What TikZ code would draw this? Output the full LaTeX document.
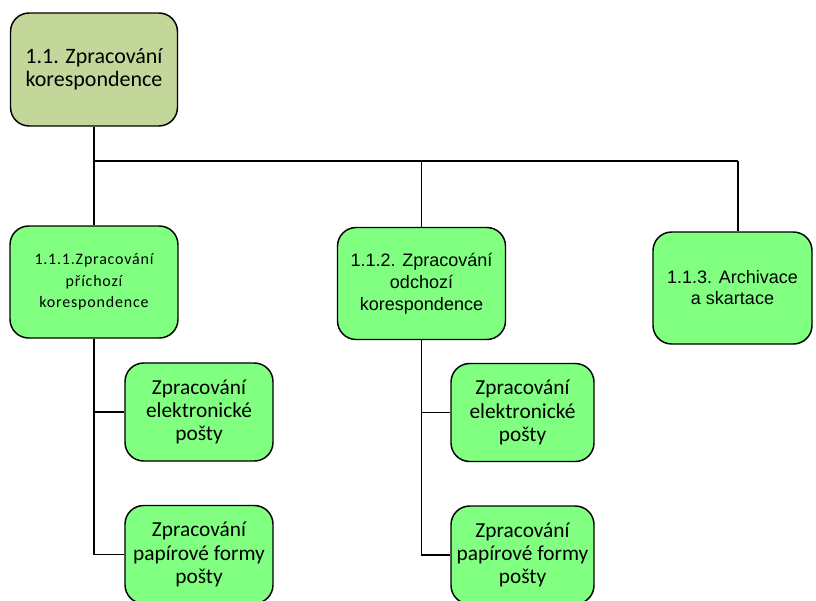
\documentclass[tikz,border=0pt]{standalone}
\usepackage{fontspec}
\setmainfont{Carlito}
\newfontfamily\arialfont{Liberation Sans}
\definecolor{rootfill}{HTML}{C4D79B}
\definecolor{taskfill}{HTML}{80FF80}
\begin{document}
\begin{tikzpicture}[x=0.75pt,y=-0.75pt,
  box/.style={draw=black, line width=1.1pt, rounded corners=14pt, align=center,
    inner sep=0pt, fill=taskfill},
  rootbox/.style={box, fill=rootfill, minimum width=125.25pt, minimum height=84.75pt,
    font=\fontsize{16.5}{17.2}\selectfont},
  wbs/.style={box, minimum width=126pt, minimum height=84pt},
  leaf/.style={box, minimum width=111pt, minimum height=73.5pt,
    font=\fontsize{16}{17.5}\selectfont},
  link/.style={line width=1.1pt}]
\clip (0,0) rectangle (816,600);

% top level
\node[rootbox] (root) at (94,69.5) {1.1. Zpracování\\korespondence};

% second level
\node[wbs, font={\addfontfeatures{LetterSpace=5}\fontsize{12}{16.3}\selectfont}]
  (c1) at (94,282) {1.1.1.Zpracování\\příchozí\\korespondence};
\node[wbs, font={\arialfont\fontsize{13.5}{16.6}\selectfont}]
  (c2) at (421.5,283.5) {1.1.2. Zpracování\\odchozí\\korespondence};
\node[wbs, minimum width=119.25pt, font={\arialfont\fontsize{13.5}{15.8}\selectfont}]
  (c3) at (732.5,288) {1.1.3. Archivace\\a skartace};

% third level
\node[leaf] (l1) at (199,412) {Zpracování\\elektronické\\pošty};
\node[leaf] (l2) at (199,554.5) {Zpracování\\papírové formy\\pošty};
\node[leaf, minimum width=107.25pt] (r1) at (522.5,412.5) {Zpracování\\elektronické\\pošty};
\node[leaf, minimum width=107.25pt] (r2) at (522.5,555) {Zpracování\\papírové formy\\pošty};

% connectors
\coordinate (busL) at (94,161);
\coordinate (busR) at (738,161);
\draw[link] (root.south) -- (c1.north);
\draw[link] (busL) -- (busR);
\draw[link] (c2.north |- busL) -- (c2.north);
\draw[link] (busR) -- (busR |- c3.north);

\draw[link] (c1.south) |- (l2.west);
\draw[link] (c1.south |- l1.west) -- (l1.west);
\draw[link] (c2.south) |- (r2.west);
\draw[link] (c2.south |- r1.west) -- (r1.west);
\end{tikzpicture}
\end{document}
